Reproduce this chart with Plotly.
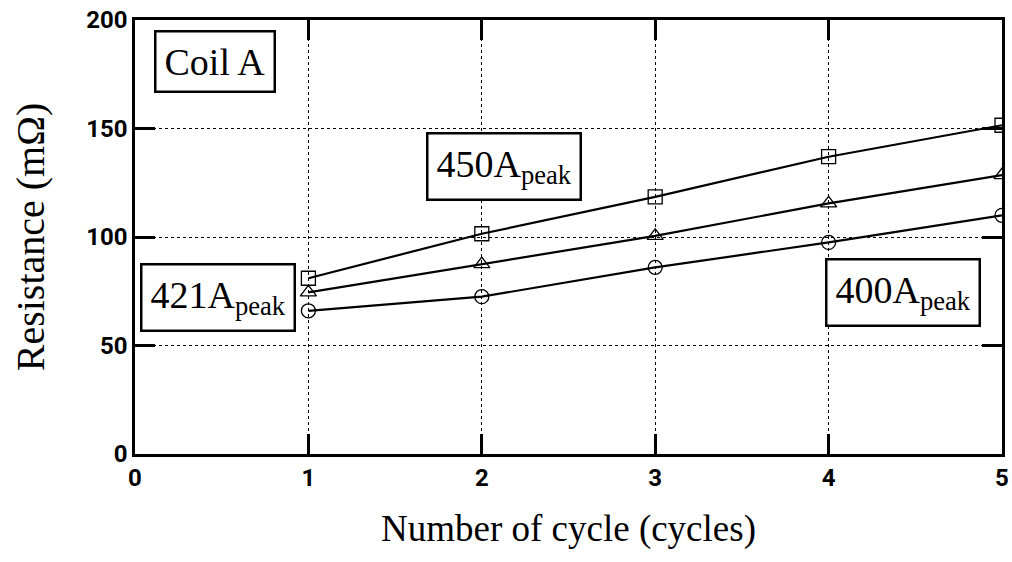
import plotly.graph_objects as go

cycles = [1, 2, 3, 4, 5]
r_450 = [81, 101.5, 118.5, 137, 151.5]
r_421 = [74.5, 87.5, 100.5, 115.5, 128.5]
r_400 = [66, 72.5, 86, 97.5, 110]

x_ticks = [0, 1, 2, 3, 4, 5]
y_ticks = [0, 50, 100, 150, 200]

serif = "Liberation Serif, Times New Roman, serif"
tick_font = "Roboto, Arial, sans-serif"

fig = go.Figure()
for ys, sym in [(r_450, "square-open"), (r_421, "triangle-up-open"), (r_400, "circle-open")]:
    fig.add_trace(go.Scatter(
        x=cycles, y=ys, mode="lines+markers",
        line=dict(color="black", width=2.2),
        marker=dict(symbol=sym, size=14, color="black", line=dict(width=1.3)),
        showlegend=False,
    ))

axis_common = dict(
    showline=True, linecolor="black", linewidth=2.5, mirror="ticks",
    ticks="inside", ticklen=20, tickwidth=2.5, tickcolor="black",
    showgrid=True, gridcolor="black", gridwidth=1, griddash="dot",
    zeroline=False,
    tickfont=dict(family=tick_font, size=24, color="black", weight="bold"),
)

fig.update_xaxes(range=[0, 5], tickvals=x_ticks, automargin=False,
                 title=dict(text="Number of cycle (cycles)", font=dict(family=serif, size=37, color="black"), standoff=25),
                 **axis_common)
fig.update_yaxes(range=[0, 200], tickvals=y_ticks, automargin=False,
                 title=dict(text="Resistance (mΩ)", font=dict(family=serif, size=40, color="black"), standoff=30),
                 **axis_common)

box = dict(showarrow=False, xref="x", yref="y", bordercolor="black", borderwidth=2.5,
           bgcolor="white", font=dict(family=serif, size=38, color="black"), borderpad=8)
fig.add_annotation(x=0.46, y=181, text="Coil A", **box)
fig.add_annotation(x=2.13, y=132.5, text="450A<sub>peak</sub>", **box)
fig.add_annotation(x=0.48, y=72, text="421A<sub>peak</sub>", **box)
fig.add_annotation(x=4.43, y=74.6, text="400A<sub>peak</sub>", **box)

fig.update_layout(
    width=1012, height=562,
    margin=dict(l=135, r=10, t=20, b=108),
    paper_bgcolor="white", plot_bgcolor="white",
)
fig.write_html("out.html")
